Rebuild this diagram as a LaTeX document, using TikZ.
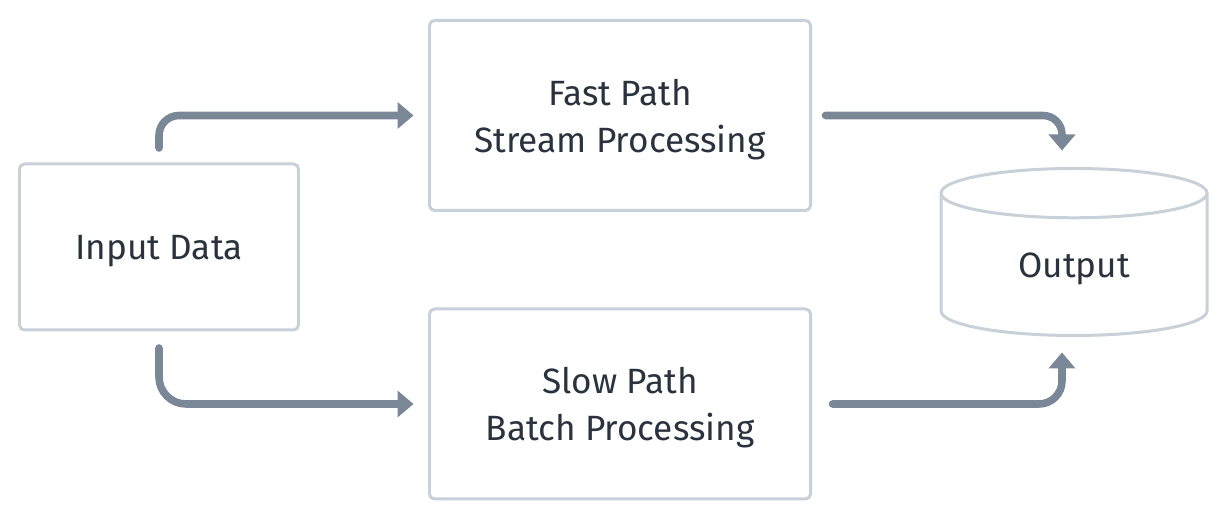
\documentclass[tikz,border=0pt]{standalone}
\usepackage{fontspec}
\setmainfont{Fira Sans}
\usepackage{tikz}
\usetikzlibrary{arrows.meta,shapes.geometric,positioning}
\definecolor{boxline}{HTML}{C8D0D8}
\definecolor{flowline}{HTML}{7A8796}
\definecolor{labeltext}{HTML}{29323D}

\begin{document}
\begin{tikzpicture}[auto,
    >={Triangle[width=0.52cm,length=0.32cm]},
    box/.style={draw=boxline, line width=1.7pt,
        text=labeltext, align=center,
        font=\fontsize{20}{26.7}\selectfont},
    procbox/.style={box, rounded corners=0.1cm, text depth=0pt},
    flow/.style={->, draw=flowline, line width=4.3pt, line cap=round}
]
    \useasboundingbox (0,0) rectangle (24.56,10.4);

    \node [procbox,
        minimum width=5.58cm,
        minimum height=3.32cm
    ]  (InputData) at (3.18,5.46) {Input Data};
    \node [procbox,
        minimum width=7.62cm,
        minimum height=3.8cm
    ]  (FastPath) at (12.4,8.09) {Fast Path\\Stream Processing};
    \node [procbox,
        minimum width=7.62cm,
        minimum height=3.8cm
    ]  (SlowPath) at (12.4,2.32) {Slow Path\\Batch Processing};
    \node [box, cylinder,
        shape border rotate=90,
        aspect=0.4,
        minimum width=5.32cm,
        minimum height=3.34cm,
        anchor=shape center
    ]  (Output) at (21.48,5.36) {Output};

    \draw [flow, rounded corners=0.4cm, shorten <=0.29cm, shorten >=0.29cm]
        (InputData.north) |- (FastPath.west);
    \draw [flow, rounded corners=0.54cm, shorten <=0.33cm, shorten >=0.29cm]
        (InputData.south) |- (SlowPath.west);
    \draw [flow, rounded corners=0.38cm, shorten <=0.27cm, shorten >=0.33cm]
        (FastPath.east) -| ([xshift=-0.24cm]Output.north);
    \draw [flow, rounded corners=0.46cm, shorten <=0.41cm, shorten >=0.31cm]
        (SlowPath.east) -| ([xshift=-0.24cm]Output.south);

\end{tikzpicture}
\end{document}
